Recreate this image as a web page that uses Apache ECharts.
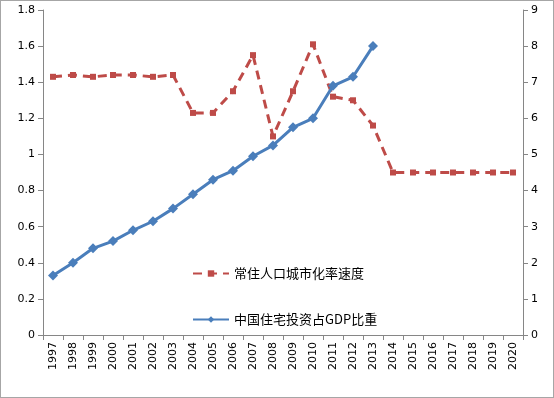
<html lang="zh">
<head>
    <meta http-equiv="Content-Type" content="text/html; charset=UTF-8">
    <script type="text/javascript" src="https://cdn.jsdelivr.net/npm/echarts@6/dist/echarts.min.js"></script>
    <style>
        body { margin: 0; background: #fff; }
        #main { width: 552px; height: 396px; border: 1px solid #a6a6a6; }
    </style>
</head>
<body>
<div id="main"></div>
<script type="text/javascript">
    // 年份
    var years = ['1997','1998','1999','2000','2001','2002','2003','2004','2005','2006','2007','2008',
        '2009','2010','2011','2012','2013','2014','2015','2016','2017','2018','2019','2020'];
    // 中国住宅投资占GDP比重 (左轴)
    var gdpShare = [0.33, 0.40, 0.48, 0.52, 0.58, 0.63, 0.70, 0.78, 0.86, 0.91, 0.99, 1.05,
        1.15, 1.20, 1.38, 1.43, 1.60];
    // 常住人口城市化率速度 (右轴)
    var urbanRate = [7.15, 7.2, 7.15, 7.2, 7.2, 7.15, 7.2, 6.15, 6.15, 6.75, 7.75, 5.5,
        6.75, 8.05, 6.6, 6.5, 5.8, 4.5, 4.5, 4.5, 4.5, 4.5, 4.5, 4.5];

    var leftTicks = ['0','0.2','0.4','0.6','0.8','1','1.2','1.4','1.6','1.8'];

    var myChart = echarts.init(document.getElementById('main'));
    var txt = { color: '#000', fontFamily: 'DejaVu Sans, Noto Sans CJK SC', fontSize: 11 };
    var axisLine = { show: true, lineStyle: { color: '#868686', width: 1 } };

    var option = {
        animation: false,
        grid: { left: 42, right: 30, top: 9, bottom: 62 },
        legend: {
            orient: 'vertical',
            left: 186,
            top: 261,
            itemGap: 33,
            itemWidth: 36,
            itemHeight: 8,
            textStyle: { color: '#000', fontSize: 13, fontFamily: 'Noto Sans CJK SC' },
            data: ['常住人口城市化率速度', '中国住宅投资占GDP比重']
        },
        xAxis: {
            type: 'category',
            data: years,
            boundaryGap: true,
            axisLine: axisLine,
            axisTick: { show: true, interval: 0, length: 5, lineStyle: { color: '#868686' } },
            axisLabel: Object.assign({ rotate: 90, interval: 0, margin: 7 }, txt),
            splitLine: { show: false }
        },
        yAxis: [{
            type: 'value',
            min: 0, max: 1.8, interval: 0.2,
            axisLine: axisLine,
            axisTick: { show: true, length: 5, lineStyle: { color: '#868686' } },
            axisLabel: Object.assign({
                margin: 8,
                formatter: function (v) { return leftTicks[Math.round(v / 0.2)]; }
            }, txt),
            splitLine: { show: false }
        }, {
            type: 'value',
            min: 0, max: 9, interval: 1,
            position: 'right',
            axisLine: axisLine,
            axisTick: { show: true, length: 5, lineStyle: { color: '#868686' } },
            axisLabel: Object.assign({ margin: 8 }, txt),
            splitLine: { show: false }
        }],
        series: [{
            name: '常住人口城市化率速度',
            type: 'line',
            yAxisIndex: 1,
            data: urbanRate,
            symbol: 'rect',
            symbolSize: 6,
            lineStyle: { color: '#be4b48', width: 3, type: [9, 6] },
            itemStyle: { color: '#be4b48' },
            z: 2
        }, {
            name: '中国住宅投资占GDP比重',
            type: 'line',
            yAxisIndex: 0,
            data: gdpShare,
            symbol: 'diamond',
            symbolSize: 10,
            lineStyle: { color: '#4a7ebb', width: 3 },
            itemStyle: { color: '#4a7ebb' },
            z: 3
        }]
    };

    myChart.setOption(option);
</script>
</body>
</html>
